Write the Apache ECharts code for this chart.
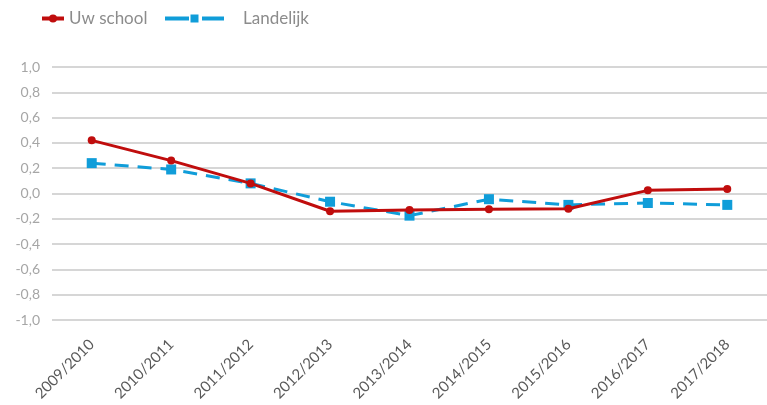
<!DOCTYPE html>
<html>
<head>
<meta charset="utf-8">
<script src="https://cdn.jsdelivr.net/npm/echarts@6/dist/echarts.min.js"></script>
<style>html,body{margin:0;padding:0;background:#fff}#c{width:767px;height:405px}</style>
</head>
<body>
<div id="c"></div>
<script>
var categories = ['2009/2010','2010/2011','2011/2012','2012/2013','2013/2014','2014/2015','2015/2016','2016/2017','2017/2018'];
var uwSchool = [0.42, 0.26, 0.08, -0.14, -0.13, -0.125, -0.12, 0.025, 0.035];
var landelijk = [0.24, 0.19, 0.08, -0.065, -0.175, -0.045, -0.09, -0.075, -0.09];
var yTicks = {min: -1, max: 1, interval: 0.2};

var FONT = 'Lato, "Open Sans", sans-serif';
var chart = echarts.init(document.getElementById('c'), null, {renderer: 'canvas'});
chart.setOption({
  animation: false,
  textStyle: {fontFamily: FONT},
  legend: [
    {data: ['Uw school'], left: 35, top: 5, itemWidth: 22, itemHeight: 10, itemGap: 10,
     lineStyle: {width: 4},
     textStyle: {color: '#8c8c8c', fontSize: 17, fontFamily: FONT}},
    {data: ['Landelijk'], left: 158, top: 5, itemWidth: 59, itemHeight: 10, itemGap: 10,
     lineStyle: {type: [24, 13], width: 4, dashOffset: 0},
     textStyle: {color: '#8c8c8c', fontSize: 17, fontFamily: FONT, padding: [0, 0, 0, 14]}}
  ],
  grid: {left: 52, right: 0, top: 67, bottom: 85, containLabel: false},
  xAxis: {
    type: 'category',
    data: categories,
    boundaryGap: true,
    axisLine: {show: false},
    axisTick: {show: false},
    axisLabel: {rotate: 45, color: '#595959', fontSize: 15, margin: 22, fontFamily: FONT}
  },
  yAxis: {
    type: 'value',
    min: yTicks.min, max: yTicks.max, interval: yTicks.interval,
    axisLine: {show: false},
    axisTick: {show: false},
    axisLabel: {color: '#a6a6a6', fontSize: 14, margin: 12, fontFamily: FONT,
      formatter: function (v) { return v.toFixed(1).replace('.', ','); }},
    splitLine: {lineStyle: {color: '#c8c8c8', width: 1.5}}
  },
  series: [
    {name: 'Uw school', type: 'line', data: uwSchool, symbol: 'circle', symbolSize: 8,
     lineStyle: {color: '#c00d0d', width: 3}, itemStyle: {color: '#c00d0d'}, z: 3},
    {name: 'Landelijk', type: 'line', data: landelijk, symbol: 'rect', symbolSize: 10,
     lineStyle: {color: '#109dd9', width: 3, type: [14, 9]}, itemStyle: {color: '#109dd9'}, z: 2}
  ]
});
</script>
</body>
</html>
